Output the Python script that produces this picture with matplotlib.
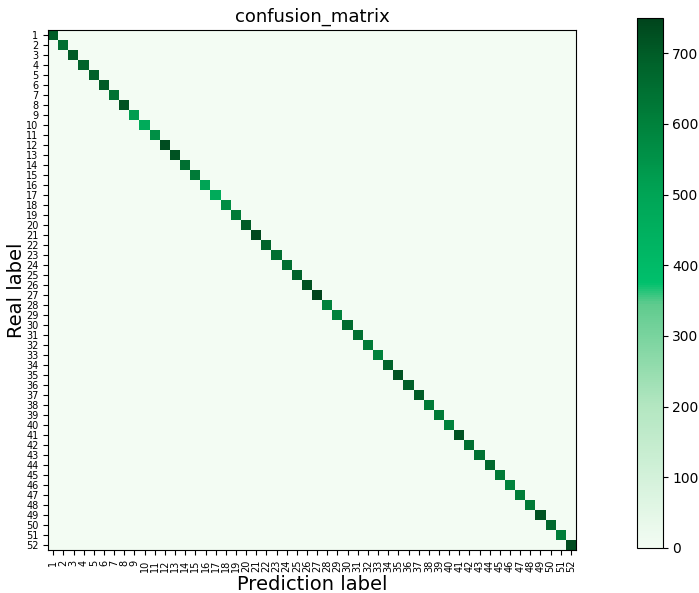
import matplotlib
matplotlib.use("Agg")
import matplotlib.pyplot as plt
import numpy as np
from matplotlib.colors import LinearSegmentedColormap

labels = [str(i) for i in range(1, 53)]
# counts on the diagonal (correct predictions), everything else is 0
diag = [700, 650, 700, 680, 690, 700, 640, 720, 520, 470,
        560, 730, 720, 650, 620, 500, 470, 570, 620, 700,
        740, 680, 650, 650, 680, 720, 750, 600, 600, 660,
        650, 620, 600, 680, 720, 690, 700, 620, 620, 600,
        720, 650, 640, 670, 620, 600, 610, 620, 720, 670,
        610, 730]

cm = np.diag(diag)

greens = LinearSegmentedColormap.from_list("greens", [
    (0.0, "#f3fcf3"),
    (0.27, "#b2e6c0"),
    (0.46, "#5fcb8e"),
    (0.50, "#00c06c"),
    (0.67, "#00a455"),
    (0.80, "#00823c"),
    (0.93, "#005e28"),
    (1.0, "#00441c"),
])

fig = plt.figure(figsize=(6.99, 5.93), dpi=100)
ax = fig.add_axes([0.069, 0.073, 0.755, 0.876])
cax = fig.add_axes([0.911, 0.076, 0.037, 0.894])

im = ax.imshow(cm, cmap=greens, interpolation="nearest", aspect="auto")
cb = fig.colorbar(im, cax=cax)
cb.set_ticks([0, 100, 200, 300, 400, 500, 600, 700])
cb.ax.tick_params(labelsize=10)

ax.set_xticks(np.arange(len(labels)))
ax.set_yticks(np.arange(len(labels)))
ax.set_xticklabels(labels, rotation=90, fontsize=7)
ax.set_yticklabels(labels, fontsize=7)
ax.set_title("confusion_matrix", fontsize=13)
ax.set_xlabel("Prediction label", fontsize=14, labelpad=2)
ax.set_ylabel("Real label", fontsize=14, labelpad=0)

fig.savefig("out.png", dpi=100)
